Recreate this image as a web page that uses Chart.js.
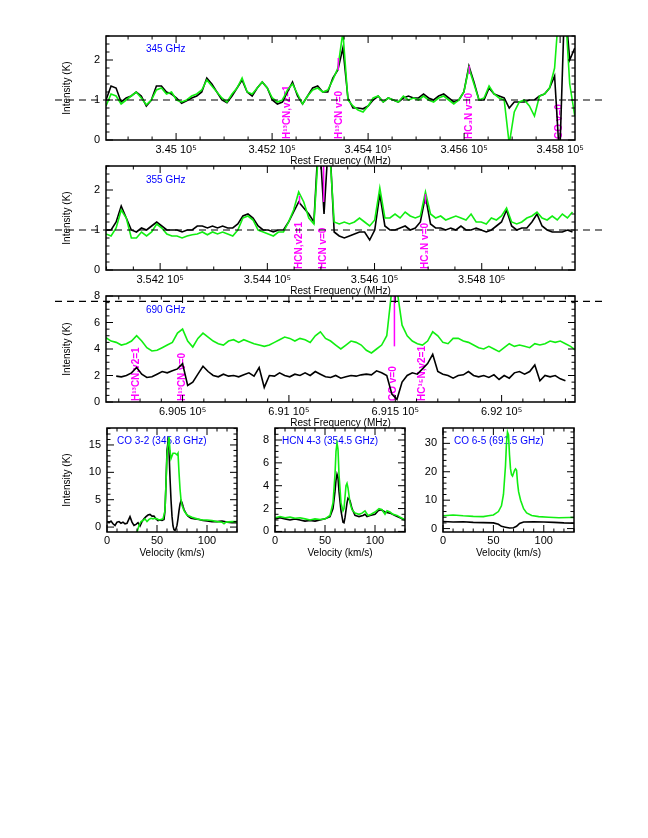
<!DOCTYPE html>
<html>
<head>
<meta charset="utf-8">
<script src="https://cdn.jsdelivr.net/npm/chart.js@4.4.0/dist/chart.umd.min.js"></script>
<style>
body { margin: 0; background: #fff; }
#page { position: relative; width: 648px; height: 838px; background: #fff; overflow: hidden; }
#page canvas { position: absolute; }
</style>
</head>
<body>
<div id="page">
<canvas id="c345"></canvas>
<canvas id="c355"></canvas>
<canvas id="c690"></canvas>
<canvas id="cCO32"></canvas>
<canvas id="cHCN43"></canvas>
<canvas id="cCO65"></canvas>
</div>
<script>
// ---- 345 GHz band (channel grid: start + step, MHz) ----
const f345Start = 344854, f345Step = 10.5;
const ticks345 = [345000, 345200, 345400, 345600, 345800];
const green345 = [
  0.85,1.15,1.1,0.9,1.0,1.1,1.2,1.05,0.88,1.0,
  1.25,1.3,1.15,1.2,1.0,0.95,1.0,1.1,1.15,1.25,
  1.5,1.35,1.2,1.05,0.95,1.15,1.3,1.55,1.2,1.15,
  1.3,1.45,1.3,1.05,0.95,1.0,1.25,1.4,1.15,0.9,
  1.1,1.25,1.3,1.2,1.25,1.5,1.8,2.7,1.0,0.85,
  0.75,0.7,0.85,1.05,1.1,0.95,1.05,1.0,0.95,1.1,
  1.0,1.05,1.0,1.1,1.0,0.95,1.05,1.1,1.0,0.9,
  1.0,1.2,1.8,1.4,1.0,1.05,1.35,1.15,1.05,1.0,
  -0.1,0.7,0.95,1.0,0.85,0.6,1.1,1.15,1.3,1.8,
  3.5,3.5,1.4,0.6
];
const black345 = [
  1.0,1.35,1.3,0.95,1.05,1.1,1.2,1.1,0.85,1.0,
  1.35,1.35,1.2,1.15,1.05,0.92,0.98,1.05,1.1,1.2,
  1.55,1.4,1.2,1.0,0.93,1.1,1.3,1.5,1.2,1.1,
  1.3,1.45,1.3,1.0,0.9,0.95,1.2,1.45,1.1,0.9,
  1.1,1.3,1.35,1.2,1.2,1.55,1.75,2.3,1.05,0.8,
  0.8,0.78,0.85,1.0,1.1,0.95,1.05,1.0,0.95,1.05,
  1.1,1.05,1.05,1.15,1.05,1.0,1.1,1.15,1.05,0.95,
  1.0,1.2,1.85,1.45,1.0,1.0,1.3,1.15,1.1,1.05,
  0.8,0.95,0.95,0.95,1.0,1.0,1.1,1.15,1.3,1.6,
  -0.5,3.5,2.0,2.3
];
const lines345 = [
  {f: 345232, text: 'H¹³CN,v2=1'},
  {f: 345340, text: 'H¹³CN v=0'},
  {f: 345611, text: 'HC₃N v=0'},
  {f: 345798, text: 'CO v=0'}
];
const marks345 = [{f: 345338, y0: 1.75, y1: 2.05}, {f: 345611, y0: 1.65, y1: 1.85}];

// ---- 355 GHz band ----
const f355Start = 354099, f355Step = 9.46;
const ticks355 = [354200, 354400, 354600, 354800];
const green355 = [
  0.9,0.85,1.05,1.5,1.3,0.8,0.8,0.95,0.85,0.95,
  1.15,1.05,0.9,0.85,0.85,0.8,0.85,0.88,0.9,0.95,
  0.88,0.95,0.9,0.95,0.9,0.85,1.0,1.3,1.35,1.25,
  1.0,0.95,0.9,0.85,0.95,0.95,1.2,1.5,1.95,1.7,
  1.3,1.15,3.2,3.5,3.2,1.2,1.15,1.2,1.15,1.2,
  1.3,1.2,1.1,1.25,2.05,1.3,1.3,1.4,1.3,1.45,
  1.35,1.3,1.35,1.95,1.4,1.3,1.35,1.25,1.3,1.35,
  1.3,1.25,1.4,1.2,1.2,1.15,1.3,1.25,1.35,1.55,
  1.2,1.15,1.2,1.3,1.35,1.45,1.3,1.25,1.35,1.25,
  1.4,1.3,1.45
];
const black355 = [
  1.0,1.0,1.2,1.6,1.3,1.0,0.95,1.05,1.0,1.1,
  1.2,1.1,1.0,1.0,1.0,0.95,1.0,1.0,1.1,1.1,
  1.05,1.1,1.05,1.1,1.05,1.05,1.15,1.35,1.4,1.3,
  1.1,1.0,1.0,0.95,1.0,1.0,1.2,1.45,1.7,1.55,
  1.4,1.2,3.5,1.4,3.5,0.95,0.85,0.8,0.85,0.9,
  0.95,0.95,0.75,1.0,1.9,1.1,1.0,1.0,1.05,1.1,
  1.0,1.05,1.2,1.85,1.15,1.05,1.05,1.0,1.05,1.0,
  1.1,1.0,1.0,1.05,1.0,0.95,1.0,1.1,1.2,1.5,
  1.1,1.0,1.05,1.05,1.2,1.4,1.1,1.0,0.95,0.95,
  0.95,1.0,0.95
];
const lines355 = [
  {f: 354460, text: 'HCN,v2=1'},
  {f: 354505, text: 'HCN v=0'},
  {f: 354695, text: 'HC₃N v=0'}
];
const marks355 = [
  {f: 354460, y0: 1.65, y1: 1.85},
  {f: 354505, y0: 1.7, y1: 2.6},
  {f: 354695, y0: 1.65, y1: 1.9}
];

// ---- 690 GHz band ----
const f690Start = 690140, f690Step = 24;
const ticks690 = [690500, 691000, 691500, 692000];
const green690 = [
  4.85,4.6,4.5,4.3,4.4,4.6,5.0,4.6,4.1,3.85,
  3.9,4.1,4.3,4.5,5.2,5.5,4.6,4.15,4.8,5.2,
  4.9,4.6,4.4,4.3,4.6,4.7,4.5,4.7,4.55,4.4,
  4.3,4.2,4.3,4.5,4.7,4.9,4.8,4.6,4.8,4.7,
  4.5,5.0,5.3,4.8,4.6,4.3,4.0,4.3,4.6,4.5,
  4.3,3.9,3.7,4.0,4.3,5.0,8.5,8.5,5.8,5.0,
  4.6,4.4,4.3,4.6,5.3,5.0,4.5,4.4,4.8,4.8,
  4.6,4.5,4.3,4.1,4.0,4.2,4.0,3.8,4.1,4.4,
  4.2,4.3,4.2,4.1,4.4,4.3,4.4,4.6,4.5,4.6,
  4.4,4.2,3.9
];
const black690 = [
  null,null,1.95,1.9,2.0,2.2,2.6,2.1,1.85,1.9,
  2.1,2.3,2.2,2.35,2.5,2.9,1.25,1.5,2.1,2.7,
  2.3,2.0,1.9,2.1,1.95,2.0,1.9,2.05,2.2,1.95,
  2.6,1.1,2.0,1.95,2.2,2.0,1.9,2.1,2.0,2.2,
  2.0,2.3,2.1,1.9,1.85,2.0,1.8,1.9,2.0,1.95,
  2.05,2.1,2.05,2.35,2.2,2.0,0.6,0.2,1.5,2.0,
  2.2,2.1,2.5,2.9,3.6,2.3,2.1,2.0,1.8,2.0,
  2.05,2.3,2.0,1.9,2.0,1.85,2.05,1.7,2.0,1.8,
  2.2,2.3,2.1,2.3,2.8,1.6,2.0,1.9,2.0,1.75,
  1.6,null,null
];
const lines690 = [
  {f: 690283, text: 'H¹³CN,v2=1'},
  {f: 690498, text: 'H¹³CN v=0'},
  {f: 691491, text: 'CO v=0'},
  {f: 691626, text: 'HC¹⁵N,v2=1'}
];
const marks690 = [{f: 691496, y0: 4.2, y1: 8}];

// ---- line profiles (velocity km/s, intensity K) ----
const velTicks = [0, 50, 100];
const velCO32Green = [30,32,34,36,38,40,42,44,46,48,50,52,54,56,58,59,60,61,62,63,64,66,68,70,71,72,73,74,75,77,80,85,90,95,100,105,110,115,117,119,125,130];
const tCO32Green = [-0.9,0.3,1.0,1.2,1.5,1.0,1.4,1.6,1.5,1.6,1.5,1.3,1.4,1.5,3.0,8.0,13.0,15.0,16.5,14.0,12.5,13.5,13.5,13.2,13.5,10.0,7.0,5.0,4.0,3.0,2.2,1.8,1.5,1.3,1.3,1.2,1.0,0.9,0.6,0.9,1.0,1.0];
const velCO32Black = [0,2,4,6,8,10,12,14,16,18,20,22,23,25,27,29,31,33,35,37,39,41,43,45,47,49,51,53,55,57,58,59,60,61,62,63,64,65,66,67,68,69,70,71,72,73,74,75,76,77,79,81,84,88,92,96,100,105,110,115,120,125,130];
const tCO32Black = [1.0,0.8,1.1,0.6,0.3,0.9,1.0,0.7,0.9,0.6,0.7,1.5,1.9,0.9,0.3,0.5,0.8,0.2,1.0,1.5,1.9,2.2,2.3,2.0,2.0,1.5,1.2,1.3,1.2,1.4,3.0,8.0,14.0,15.5,14.0,9.0,5.0,2.0,0.2,-0.5,-0.6,-0.3,0.3,1.5,3.0,4.2,4.8,4.5,3.8,3.2,2.5,2.0,1.6,1.5,1.4,1.2,1.1,1.0,1.0,1.1,0.9,0.8,0.8];

const velHCNGreen = [0,5,10,15,20,25,30,35,40,45,50,55,58,60,61,62,63,64,66,68,69,70,71,72,73,75,77,80,84,87,90,93,96,100,104,107,110,112,115,118,122,126,130];
const tHCNGreen = [1.2,1.3,1.2,1.25,1.15,1.2,1.1,1.0,1.1,1.05,1.1,1.4,2.5,5.0,7.0,7.7,7.2,5.0,2.5,1.8,2.0,3.0,4.0,4.2,3.8,2.5,1.9,1.6,1.5,1.6,1.8,1.4,1.5,1.7,2.0,1.9,1.5,1.8,1.7,1.5,1.4,1.2,1.0];
const velHCNBlack = [0,5,10,15,20,25,30,35,40,45,50,55,58,60,61,62,63,64,66,68,69,70,72,73,75,77,80,84,88,90,92,95,100,103,106,110,115,120,125,130];
const tHCNBlack = [1.1,1.2,1.1,1.0,1.1,1.0,0.9,0.95,0.9,1.0,1.1,1.3,2.0,3.5,4.5,5.0,4.7,3.5,1.8,0.8,0.75,1.2,2.5,2.9,2.7,2.0,1.4,1.3,1.4,1.5,1.3,1.4,1.5,1.8,1.9,1.7,1.6,1.4,1.2,1.0];

const velCO65Green = [0,10,20,30,40,45,50,55,58,60,62,63,64,65,66,67,68,69,70,71,72,73,74,75,77,80,83,88,95,105,115,125,130];
const tCO65Green = [4.5,4.8,4.5,4.3,4.2,4.5,4.8,6.0,8.0,12.0,22,30,34,33,26,21,19,18.5,19.5,20.5,21,20.5,16,13,10,7,5.5,4.6,4.2,4.0,3.8,3.9,3.9];
const velCO65Black = [0,10,20,30,40,50,55,58,62,66,70,73,76,80,90,100,110,120,130];
const tCO65Black = [2.5,2.3,2.4,2.2,2.1,2.0,1.5,0.8,0.5,0.2,0.3,0.8,1.8,2.3,2.4,2.3,2.2,2.0,1.9];

const GREEN = '#11ee11', BLACK = '#000000', MAGENTA = '#ff00ff', BLUE = '#0000ff';
const FAMILY = '"Liberation Sans", Arial, sans-serif';
Chart.defaults.font.family = FAMILY;
Chart.defaults.color = '#000';

function channels(start, step, vals) {
    return vals.map(function(v, i){ return {x: start + i * step, y: v}; });
}
function pairs(xs, ys) {
    return xs.map(function(v, i){ return {x: v, y: ys[i]}; });
}

// frame, inward ticks, dashed level, blue tag, magenta line ids
const framePlugin = {
    id: 'frame',
    beforeDatasetsDraw(chart, args, o) {
        const ctx = chart.ctx, a = chart.chartArea, x = chart.scales.x;
        ctx.save();
        if (o.tag) {
            ctx.fillStyle = BLUE;
            ctx.font = '10px ' + FAMILY;
            ctx.textAlign = 'left';
            ctx.textBaseline = 'middle';
            ctx.fillText(o.tag, a.left + o.tagX, a.top + o.tagY);
        }
        (o.lines || []).forEach(function(l){
            ctx.save();
            ctx.translate(x.getPixelForValue(l.f), a.bottom - 1);
            ctx.rotate(-Math.PI / 2);
            ctx.fillStyle = MAGENTA;
            ctx.font = 'bold 10px ' + FAMILY;
            ctx.textAlign = 'left';
            ctx.textBaseline = 'middle';
            ctx.fillText(l.text, 0, 0);
            ctx.restore();
        });
        ctx.restore();
    },
    afterDatasetsDraw(chart, args, o) {
        const ctx = chart.ctx, a = chart.chartArea, x = chart.scales.x, y = chart.scales.y;
        ctx.save();
        (o.marks || []).forEach(function(m){
            const px = x.getPixelForValue(m.f);
            ctx.strokeStyle = MAGENTA;
            ctx.lineWidth = 1.5;
            ctx.beginPath();
            ctx.moveTo(px, Math.max(a.top, y.getPixelForValue(m.y1)));
            ctx.lineTo(px, y.getPixelForValue(m.y0));
            ctx.stroke();
        });
        if (o.dash !== undefined) {
            const py = y.getPixelForValue(o.dash);
            ctx.strokeStyle = '#000';
            ctx.lineWidth = 1.2;
            ctx.setLineDash([7, 5]);
            ctx.beginPath();
            ctx.moveTo(55, py);
            ctx.lineTo(602, py);
            ctx.stroke();
            ctx.setLineDash([]);
        }
        ctx.strokeStyle = '#000';
        ctx.lineWidth = 1.5;
        ctx.strokeRect(a.left, a.top, a.right - a.left, a.bottom - a.top);
        ctx.lineWidth = 1;
        function isMajor(v, major) {
            return Math.abs(v / major - Math.round(v / major)) < 1e-6;
        }
        let k, v, p, len;
        for (k = Math.ceil(x.min / o.xMinor); k * o.xMinor <= x.max; k++) {
            v = k * o.xMinor;
            p = x.getPixelForValue(v);
            len = isMajor(v, o.xMajor) ? 7 : 3.5;
            ctx.beginPath();
            ctx.moveTo(p, a.bottom); ctx.lineTo(p, a.bottom - len);
            ctx.moveTo(p, a.top); ctx.lineTo(p, a.top + len);
            ctx.stroke();
        }
        for (k = Math.ceil(y.min / o.yMinor - 1e-9); k * o.yMinor <= y.max + 1e-9; k++) {
            v = k * o.yMinor;
            p = y.getPixelForValue(v);
            len = isMajor(v, o.yMajor) ? 7 : 3.5;
            ctx.beginPath();
            ctx.moveTo(a.left, p); ctx.lineTo(a.left + len, p);
            ctx.moveTo(a.right, p); ctx.lineTo(a.right - len, p);
            ctx.stroke();
        }
        ctx.restore();
    }
};

function freqLabel(v) {
    return parseFloat((v / 1e5).toPrecision(6)) + ' 10\u2075';
}

function makePanel(id, box, area, c) {
    const cv = document.getElementById(id);
    cv.width = box.w;
    cv.height = box.h;
    cv.style.left = box.x + 'px';
    cv.style.top = box.y + 'px';
    const padLeft = c.yTitle ? 58 : 0;
    return new Chart(cv, {
        type: 'line',
        data: {
            datasets: c.series.map(function(s){
                return {
                    data: s.data,
                    borderColor: s.color,
                    borderWidth: 1.6,
                    pointRadius: 0,
                    tension: 0,
                    fill: false,
                    spanGaps: false
                };
            })
        },
        options: {
            responsive: false,
            animation: false,
            devicePixelRatio: 1,
            events: [],
            layout: {
                padding: {left: padLeft, top: area.t - box.y, right: box.x + box.w - area.r, bottom: 0}
            },
            plugins: {
                legend: {display: false},
                tooltip: {enabled: false},
                frame: c.frame
            },
            scales: {
                x: {
                    type: 'linear',
                    min: c.xMin,
                    max: c.xMax,
                    afterBuildTicks: function(s){ s.ticks = c.xTicks.map(function(v){ return {value: v}; }); },
                    afterFit: function(s){ s.height = box.y + box.h - area.b; },
                    grid: {display: false, drawTicks: false},
                    border: {display: false},
                    ticks: {
                        autoSkip: false,
                        maxRotation: 0,
                        padding: c.xPad,
                        color: '#000',
                        font: {size: 11},
                        callback: c.xFormat || function(v){ return String(v); }
                    },
                    title: {display: true, text: c.xTitle, color: '#000', font: {size: 10}, padding: {top: 0, bottom: 1}}
                },
                y: {
                    type: 'linear',
                    min: c.yMin,
                    max: c.yMax,
                    afterBuildTicks: function(s){ s.ticks = c.yTicks.map(function(v){ return {value: v}; }); },
                    afterFit: function(s){ s.width = area.l - box.x - padLeft; },
                    grid: {display: false, drawTicks: false},
                    border: {display: false},
                    ticks: {
                        autoSkip: false,
                        padding: 6,
                        color: '#000',
                        font: {size: 11},
                        callback: function(v){ return String(v); }
                    },
                    title: {display: !!c.yTitle, text: 'Intensity (K)', color: '#000', font: {size: 10}, padding: {top: 3, bottom: 0}}
                }
            }
        },
        plugins: [framePlugin]
    });
}

makePanel('c345', {x: 0, y: 20, w: 648, h: 148}, {l: 106, r: 575, t: 36, b: 140}, {
    series: [
        {data: channels(f345Start, f345Step, green345), color: GREEN},
        {data: channels(f345Start, f345Step, black345), color: BLACK}
    ],
    xMin: 344854, xMax: 345831, xTicks: ticks345, xPad: 3, xFormat: freqLabel, xTitle: 'Rest Frequency (MHz)',
    yMin: 0, yMax: 2.6, yTicks: [0, 1, 2], yTitle: true,
    frame: {xMinor: 50, xMajor: 200, yMinor: 0.2, yMajor: 1, dash: 1,
            tag: '345 GHz', tagX: 40, tagY: 13, lines: lines345, marks: marks345}
});

makePanel('c355', {x: 0, y: 150, w: 648, h: 148}, {l: 106, r: 575, t: 166, b: 270}, {
    series: [
        {data: channels(f355Start, f355Step, green355), color: GREEN},
        {data: channels(f355Start, f355Step, black355), color: BLACK}
    ],
    xMin: 354099, xMax: 354974, xTicks: ticks355, xPad: 3, xFormat: freqLabel, xTitle: 'Rest Frequency (MHz)',
    yMin: 0, yMax: 2.6, yTicks: [0, 1, 2], yTitle: true,
    frame: {xMinor: 50, xMajor: 200, yMinor: 0.2, yMajor: 1, dash: 1,
            tag: '355 GHz', tagX: 40, tagY: 14, lines: lines355, marks: marks355}
});

makePanel('c690', {x: 0, y: 280, w: 648, h: 150}, {l: 106, r: 575, t: 296, b: 402}, {
    series: [
        {data: channels(f690Start, f690Step, green690), color: GREEN},
        {data: channels(f690Start, f690Step, black690), color: BLACK}
    ],
    xMin: 690140, xMax: 692345, xTicks: ticks690, xPad: 3, xFormat: freqLabel, xTitle: 'Rest Frequency (MHz)',
    yMin: 0, yMax: 8, yTicks: [0, 2, 4, 6, 8], yTitle: true,
    frame: {xMinor: 100, xMajor: 500, yMinor: 0.5, yMajor: 2, dash: 7.6,
            tag: '690 GHz', tagX: 40, tagY: 14.5, lines: lines690, marks: marks690}
});

makePanel('cCO32', {x: 0, y: 410, w: 240, h: 150}, {l: 107, r: 237, t: 428, b: 532}, {
    series: [
        {data: pairs(velCO32Green, tCO32Green), color: GREEN},
        {data: pairs(velCO32Black, tCO32Black), color: BLACK}
    ],
    xMin: 0, xMax: 130, xTicks: velTicks, xPad: 2, xTitle: 'Velocity (km/s)',
    yMin: -0.9, yMax: 18.1, yTicks: [0, 5, 10, 15], yTitle: true,
    frame: {xMinor: 10, xMajor: 50, yMinor: 1, yMajor: 5, tag: 'CO 3-2 (345.8 GHz)', tagX: 10, tagY: 13.5}
});

makePanel('cHCN43', {x: 240, y: 410, w: 170, h: 150}, {l: 275, r: 405, t: 428, b: 532}, {
    series: [
        {data: pairs(velHCNGreen, tHCNGreen), color: GREEN},
        {data: pairs(velHCNBlack, tHCNBlack), color: BLACK}
    ],
    xMin: 0, xMax: 130, xTicks: velTicks, xPad: 2, xTitle: 'Velocity (km/s)',
    yMin: -0.05, yMax: 9.05, yTicks: [0, 2, 4, 6, 8], yTitle: false,
    frame: {xMinor: 10, xMajor: 50, yMinor: 0.5, yMajor: 2, tag: 'HCN 4-3 (354.5 GHz)', tagX: 7, tagY: 13.5}
});

makePanel('cCO65', {x: 410, y: 410, w: 180, h: 150}, {l: 443, r: 574, t: 428, b: 532}, {
    series: [
        {data: pairs(velCO65Green, tCO65Green), color: GREEN},
        {data: pairs(velCO65Black, tCO65Black), color: BLACK}
    ],
    xMin: 0, xMax: 130, xTicks: velTicks, xPad: 2, xTitle: 'Velocity (km/s)',
    yMin: -1.2, yMax: 35.4, yTicks: [0, 10, 20, 30], yTitle: false,
    frame: {xMinor: 10, xMajor: 50, yMinor: 2, yMajor: 10, tag: 'CO 6-5 (691.5 GHz)', tagX: 11, tagY: 13.5}
});
</script>
</body>
</html>
